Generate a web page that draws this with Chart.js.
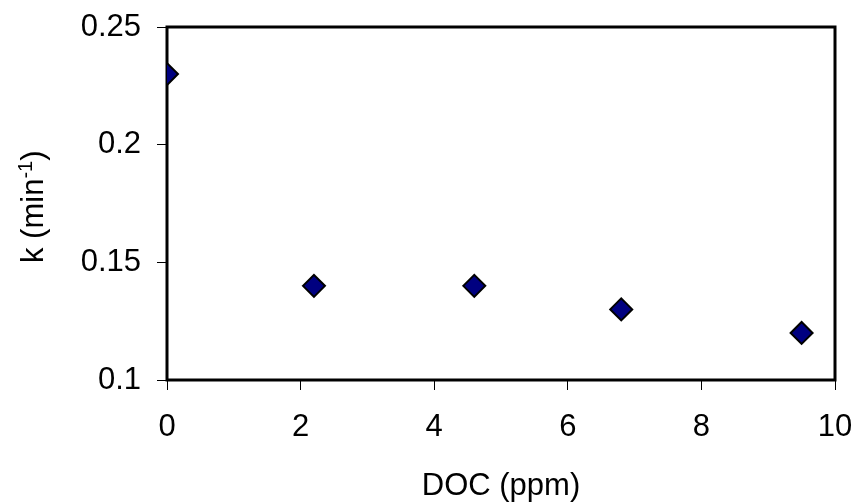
<!DOCTYPE html>
<html>
<head>
<meta charset="utf-8">
<script src="https://cdn.jsdelivr.net/npm/chart.js@4"></script>
<style>
  html, body { margin: 0; padding: 0; background: #fff; }
  canvas { display: block; }
</style>
</head>
<body>
<canvas id="grafico" width="854" height="502"></canvas>
<script>
// datos
const docValores = [0, 2.2, 4.6, 6.8, 9.5];
const kValores = [0.23, 0.14, 0.14, 0.13, 0.12];
const ticksX = [0, 2, 4, 6, 8, 10];
const ticksY = [0.1, 0.15, 0.2, 0.25];
const etiquetasY = ['0.1', '0.15', '0.2', '0.25'];
const tituloX = 'DOC (ppm)';
const tituloY = ['k (min', '-1', ')'];

const FUENTE = '"Liberation Sans", Arial, sans-serif';

// caja alrededor del area y titulos de ejes
const marcoYTitulos = {
  id: 'marcoYTitulos',
  beforeDatasetsDraw(chart) {
    const { ctx, chartArea: a } = chart;
    ctx.save();
    ctx.strokeStyle = '#000';
    ctx.lineWidth = 3;
    ctx.strokeRect(a.left, a.top, a.right - a.left, a.bottom - a.top);
    ctx.restore();
  },
  afterDraw(chart) {
    const { ctx, chartArea: a } = chart;
    ctx.save();
    ctx.fillStyle = '#000';
    ctx.textBaseline = 'alphabetic';

    // titulo eje x
    ctx.font = '31px ' + FUENTE;
    ctx.textAlign = 'center';
    ctx.fillText(tituloX, (a.left + a.right) / 2, 495);

    // titulo eje y con superindice
    ctx.translate(43, 263);
    ctx.rotate(-Math.PI / 2);
    ctx.textAlign = 'left';
    ctx.font = '31px ' + FUENTE;
    ctx.fillText(tituloY[0], 0, 0);
    let x = ctx.measureText(tituloY[0]).width;
    ctx.font = '20px ' + FUENTE;
    ctx.fillText(tituloY[1], x, -11);
    x += ctx.measureText(tituloY[1]).width;
    ctx.font = '31px ' + FUENTE;
    ctx.fillText(tituloY[2], x, 0);
    ctx.restore();
  }
};

new Chart(document.getElementById('grafico'), {
  type: 'scatter',
  data: {
    datasets: [{
      label: 'k',
      data: docValores.map((d, i) => ({ x: d, y: kValores[i] })),
      pointStyle: 'rectRot',
      pointRadius: 11,
      pointHoverRadius: 11,
      backgroundColor: '#000080',
      borderColor: '#000',
      borderWidth: 2
    }]
  },
  options: {
    responsive: false,
    animation: false,
    devicePixelRatio: 1,
    layout: { padding: { top: 27, right: 19, left: 0, bottom: 0 } },
    plugins: {
      legend: { display: false },
      tooltip: { enabled: false }
    },
    scales: {
      x: {
        type: 'linear',
        min: 0,
        max: 10,
        afterBuildTicks: s => { s.ticks = ticksX.map(v => ({ value: v })); },
        afterFit: s => { s.height = 122; s.paddingLeft = 0; s.paddingRight = 0; },
        border: { display: false },
        grid: { drawOnChartArea: false, drawTicks: true, tickLength: 10, color: '#000', lineWidth: 1 },
        ticks: { color: '#000', font: { family: FUENTE, size: 31 }, padding: 19, maxRotation: 0 }
      },
      y: {
        type: 'linear',
        min: 0.1,
        max: 0.25,
        afterBuildTicks: s => { s.ticks = ticksY.map(v => ({ value: v })); },
        afterFit: s => { s.width = 167; s.paddingTop = 0; s.paddingBottom = 0; },
        border: { display: false },
        grid: { drawOnChartArea: false, drawTicks: true, tickLength: 10, color: '#000', lineWidth: 1 },
        ticks: {
          color: '#000',
          font: { family: FUENTE, size: 31 },
          padding: 16,
          callback: (v, i) => etiquetasY[i]
        }
      }
    }
  },
  plugins: [marcoYTitulos]
});
</script>
</body>
</html>
